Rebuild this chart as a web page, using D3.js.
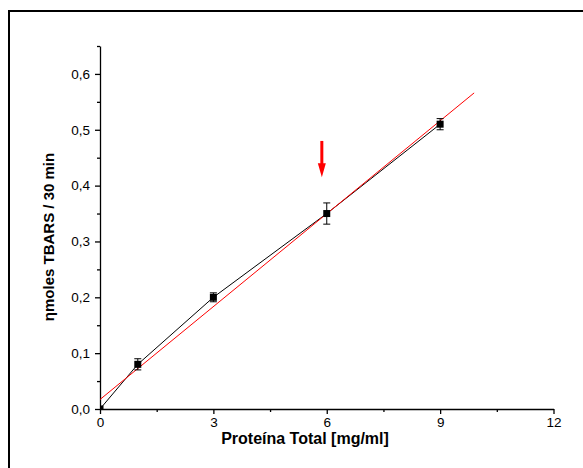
<!DOCTYPE html>
<html>
<head>
<meta charset="utf-8">
<script src="https://cdn.jsdelivr.net/npm/d3@7"></script>
<style>
  body { margin: 0; background: #fff; }
  svg { display: block; font-family: Arial, "Liberation Sans", sans-serif; }
</style>
</head>
<body>
<svg id="chart" width="583" height="468"></svg>
<script>
// Data
const protein = [0, 1, 3, 6, 9];
const tbars = [0, 0.08, 0.2, 0.35, 0.51];
const tbarsErr = [0, 0.01, 0.008, 0.019, 0.01];

// linear fit (red) endpoints
const fitX = [0, 9.9];
const fitY = [0.017, 0.566];

// red arrow annotation
const arrowX = 5.87;
const arrowY = [0.48, 0.415];

const xTicks = [0, 3, 6, 9, 12];
const yTicks = [0, 0.1, 0.2, 0.3, 0.4, 0.5, 0.6];

const svg = d3.select('#chart');
const margin = { left: 100, right: 30, top: 46, bottom: 59 };

// Scales
const x = d3.scaleLinear().domain([0, 12]).range([margin.left, 553.5]);
const y = d3.scaleLinear().domain([0, 0.65]).range([409, margin.top]);

// Outer frame (only left and top visible)
svg.append("path")
    .attr("d", "M9,468 V11 H583")
    .attr("fill", "none")
    .attr("stroke", "#000")
    .attr("stroke-width", 2);

svg.append("clipPath").attr("id", "plot")
  .append("rect")
    .attr("x", x(0)).attr("y", y(0.65))
    .attr("width", x(12) - x(0)).attr("height", y(0) - y(0.65));

const fmt = d => d3.format(".1f")(d).replace(".", ",");

// Axes
svg.append("g").attr("transform", `translate(0,${y(0)})`)
    .call(d3.axisBottom(x).tickValues(xTicks).tickSize(5).tickSizeOuter(0).tickPadding(3));
svg.append("g").attr("transform", `translate(0,${y(0)})`)
    .call(d3.axisBottom(x).tickValues([1.5, 4.5, 7.5, 10.5]).tickSize(3).tickFormat(""))
    .call(g => g.select(".domain").remove());

svg.append("g").attr("transform", `translate(${x(0)},0)`)
    .call(d3.axisLeft(y).tickValues(yTicks).tickSize(5).tickSizeOuter(0).tickPadding(5).tickFormat(fmt));
svg.append("g").attr("transform", `translate(${x(0)},0)`)
    .call(d3.axisLeft(y).tickValues([0.05, 0.15, 0.25, 0.35, 0.45, 0.55, 0.65]).tickSize(3).tickFormat(""))
    .call(g => g.select(".domain").remove());

svg.selectAll(".domain, .tick line").attr("stroke", "#000").attr("stroke-width", 1.3);
svg.selectAll(".tick text").attr("font-size", 13.5).attr("fill", "#000")
    .attr("font-family", "Arial, 'Liberation Sans', sans-serif");

// Axis titles
svg.append("text")
    .attr("x", 305).attr("y", 444)
    .attr("text-anchor", "middle")
    .attr("font-size", 16).attr("font-weight", "bold")
    .text("Proteína Total [mg/ml]");

svg.append("text")
    .attr("transform", `translate(54,${237}) rotate(-90)`)
    .attr("text-anchor", "middle")
    .attr("font-size", 15).attr("font-weight", "bold")
    .text("ηmoles TBARS / 30 min");

const plot = svg.append("g").attr("clip-path", "url(#plot)");

// Connecting line
plot.append("path")
    .datum(protein.map((p, i) => [p, tbars[i]]))
    .attr("fill", "none").attr("stroke", "#000").attr("stroke-width", 1)
    .attr("d", d3.line().x(d => x(d[0])).y(d => y(d[1])));

// Fit line
plot.append("path")
    .datum(fitX.map((p, i) => [p, fitY[i]]))
    .attr("fill", "none").attr("stroke", "#ff0000").attr("stroke-width", 1)
    .attr("d", d3.line().x(d => x(d[0])).y(d => y(d[1])));

// Error bars
const eb = plot.selectAll(".err").data(protein.map((p, i) => ({ p, v: tbars[i], e: tbarsErr[i] })).filter(d => d.e > 0))
  .join("g").attr("stroke", "#000").attr("stroke-width", 1);
eb.append("line")
    .attr("x1", d => x(d.p)).attr("x2", d => x(d.p))
    .attr("y1", d => y(d.v + d.e)).attr("y2", d => y(d.v - d.e));
eb.append("line")
    .attr("x1", d => x(d.p) - 3.5).attr("x2", d => x(d.p) + 3.5)
    .attr("y1", d => y(d.v + d.e)).attr("y2", d => y(d.v + d.e));
eb.append("line")
    .attr("x1", d => x(d.p) - 3.5).attr("x2", d => x(d.p) + 3.5)
    .attr("y1", d => y(d.v - d.e)).attr("y2", d => y(d.v - d.e));

// Square markers
plot.selectAll(".pt").data(protein)
  .join("rect")
    .attr("x", (d, i) => x(d) - 3.5)
    .attr("y", (d, i) => y(tbars[i]) - 3.5)
    .attr("width", 7).attr("height", 7)
    .attr("fill", "#000");

// Red arrow
const ax = x(arrowX), ay0 = y(arrowY[0]), ay1 = y(arrowY[1]);
svg.append("line")
    .attr("x1", ax).attr("x2", ax)
    .attr("y1", ay0).attr("y2", ay1 - 12)
    .attr("stroke", "#ff0000").attr("stroke-width", 3);
svg.append("path")
    .attr("d", `M${ax - 4},${ay1 - 14} L${ax + 4},${ay1 - 14} L${ax},${ay1} Z`)
    .attr("fill", "#ff0000");
</script>
</body>
</html>
